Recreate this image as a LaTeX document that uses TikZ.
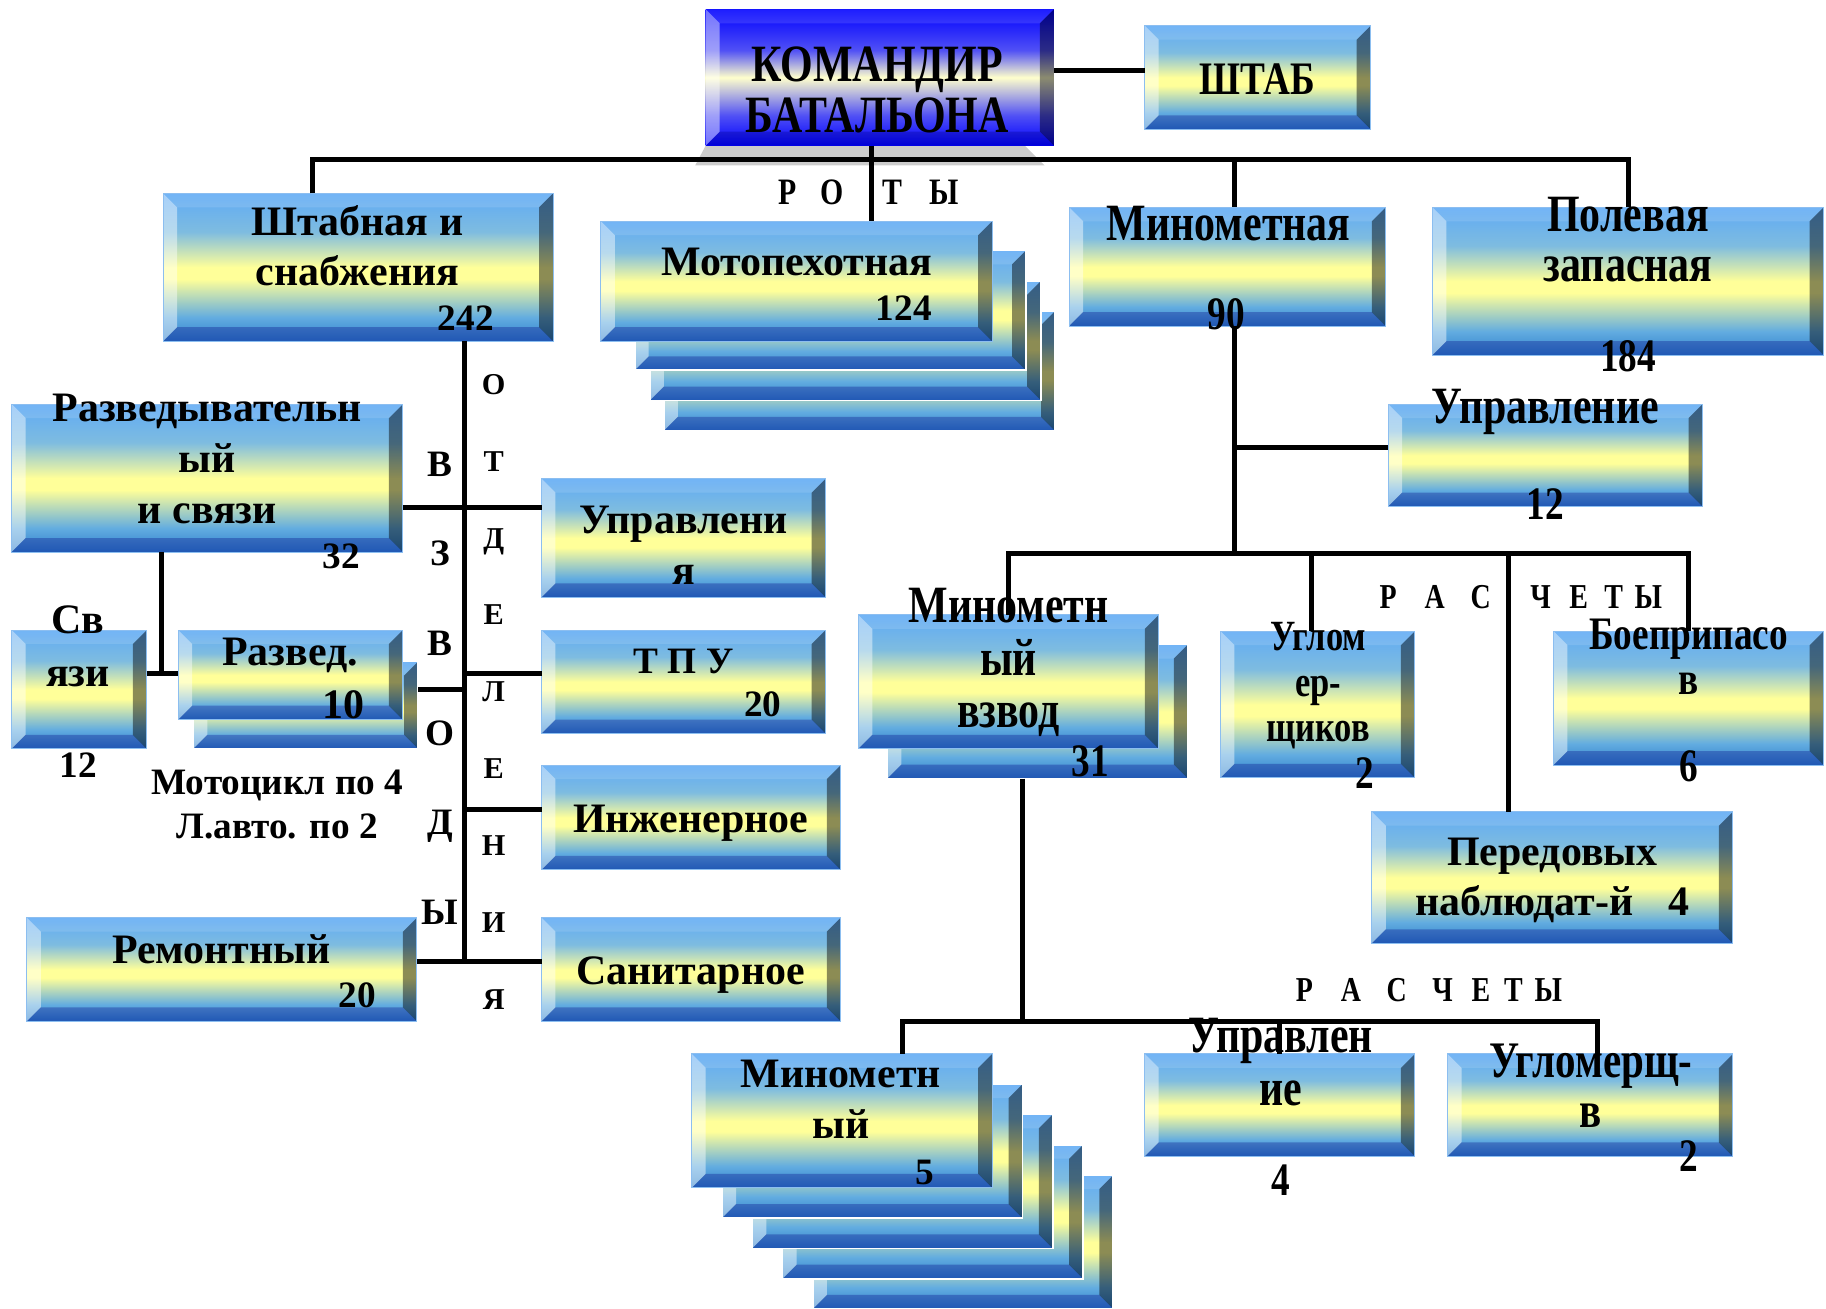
\documentclass[tikz,border=0pt]{standalone}
\usepackage{fontspec}
\setmainfont{Liberation Serif}
\newfontfamily\narrowfont[FakeStretch=0.8]{Liberation Serif}

\definecolor{shadeBot}{RGB}{47,127,204}
\definecolor{shadeLow}{RGB}{98,172,224}
\definecolor{shadeYel}{RGB}{255,255,153}
\definecolor{shadeUp}{RGB}{126,188,224}
\definecolor{shadeTop}{RGB}{95,170,245}
\definecolor{chiefBlue}{RGB}{0,0,255}
\definecolor{chiefMid}{RGB}{80,80,245}
\definecolor{chiefPale}{RGB}{255,255,204}
\definecolor{boxEdge}{RGB}{140,190,240}

\pgfdeclareverticalshading{bevshade}{100bp}{color(0bp)=(shadeBot); color(25bp)=(shadeBot); color(33bp)=(shadeLow); color(46bp)=(shadeYel); color(50bp)=(shadeYel); color(62bp)=(shadeUp); color(75bp)=(shadeTop); color(100bp)=(shadeTop)}
\pgfdeclareverticalshading{chiefshade}{100bp}{color(0bp)=(chiefBlue); color(25bp)=(chiefBlue); color(36bp)=(chiefMid); color(50bp)=(chiefPale); color(60bp)=(chiefMid); color(75bp)=(chiefBlue); color(100bp)=(chiefBlue)}

\tikzset{
  bevbox/.style={rectangle, inner sep=0pt, outer sep=0pt, shading=bevshade,
    draw=boxEdge, line width=0.8pt,
    path picture={
      \fill[white, opacity=0.45] (path picture bounding box.north west) -- (path picture bounding box.south west) -- ([shift={(12pt,12pt)}]path picture bounding box.south west) -- ([shift={(12pt,-12pt)}]path picture bounding box.north west) -- cycle;
      \fill[black, opacity=0.45] (path picture bounding box.north east) -- (path picture bounding box.south east) -- ([shift={(-12pt,12pt)}]path picture bounding box.south east) -- ([shift={(-12pt,-12pt)}]path picture bounding box.north east) -- cycle;
      \fill[white, opacity=0.12] (path picture bounding box.north west) -- (path picture bounding box.north east) -- ([shift={(-12pt,-12pt)}]path picture bounding box.north east) -- ([shift={(12pt,-12pt)}]path picture bounding box.north west) -- cycle;
      \fill[blue!50!black, opacity=0.3] (path picture bounding box.south west) -- (path picture bounding box.south east) -- ([shift={(-12pt,12pt)}]path picture bounding box.south east) -- ([shift={(12pt,12pt)}]path picture bounding box.south west) -- cycle;
    }},
  backbox/.style={bevbox, draw=white, line width=1.5pt},
  chiefbox/.style={bevbox, shading=chiefshade, draw=none},
  conn/.style={line width=4.3pt, black},
  lbl/.style={font=\bfseries\fontsize{36}{43}\selectfont, align=center, inner sep=0pt},
  nlbl/.style={font=\narrowfont\bfseries\fontsize{45}{44}\selectfont, align=center, inner sep=0pt},
  num/.style={font=\bfseries\fontsize{32}{36}\selectfont, inner sep=0pt},
  nnum/.style={font=\narrowfont\bfseries\fontsize{40}{40}\selectfont, inner sep=0pt}
}

\begin{document}
\begin{tikzpicture}[x=1pt, y=-1pt]
        \path[use as bounding box, fill=white] (0,0) rectangle (1568,1124);
        % top
        \fill[gray!40] (606,125) -- (880,125) -- (897,142) -- (597,142) -- cycle;
        \node[chiefbox, minimum width=299pt, minimum height=117pt] (chief) at (755.5,66.5) {};
        \node[bevbox, minimum width=194pt, minimum height=89pt] (shtab) at (1080,66.5) {};
        % roty
        \node[bevbox, minimum width=335pt, minimum height=127pt] (shtabn) at (307.5,229.5) {};
        \node[backbox, minimum width=336pt, minimum height=103pt] (motoc) at (738,318.5) {};
        \node[backbox, minimum width=336pt, minimum height=103pt] (motob) at (726,292.5) {};
        \node[backbox, minimum width=336pt, minimum height=103pt] (motoa) at (713,266.5) {};
        \node[bevbox, minimum width=336pt, minimum height=103pt] (moto) at (684,241.5) {};
        \node[bevbox, minimum width=272pt, minimum height=102pt] (minom) at (1054,229) {};
        \node[bevbox, minimum width=336pt, minimum height=127pt] (polev) at (1398,241.5) {};
        % minometnaya
        \node[bevbox, minimum width=270pt, minimum height=88pt] (upr12) at (1327,391) {};
        \node[backbox, minimum width=258pt, minimum height=115pt] (vzvodb) at (891,611) {};
        \node[bevbox, minimum width=258pt, minimum height=115pt] (vzvod) at (866,585.5) {};
        \node[bevbox, minimum width=167pt, minimum height=126pt] (uglom) at (1131.5,605) {};
        \node[bevbox, minimum width=232pt, minimum height=115pt] (boepr) at (1450,599.5) {};
        \node[bevbox, minimum width=310pt, minimum height=113pt] (pered) at (1333,753.5) {};
        % vzvod
        \node[backbox, minimum width=258pt, minimum height=115pt] (minad) at (827,1066.5) {};
        \node[backbox, minimum width=258pt, minimum height=115pt] (minac) at (801,1040.5) {};
        \node[backbox, minimum width=258pt, minimum height=115pt] (minab) at (775,1014.5) {};
        \node[backbox, minimum width=258pt, minimum height=115pt] (minaa) at (749,988.5) {};
        \node[bevbox, minimum width=258pt, minimum height=115pt] (mina) at (723,962.5) {};
        \node[bevbox, minimum width=232pt, minimum height=88pt] (upr4) at (1099,949) {};
        \node[bevbox, minimum width=245pt, minimum height=88pt] (uglb) at (1365.5,949) {};
        % vzvody / otdeleniya
        \node[bevbox, minimum width=336pt, minimum height=127pt] (razv) at (178,410.5) {};
        \node[bevbox, minimum width=244pt, minimum height=102pt] (uprl) at (587,462) {};
        \node[bevbox, minimum width=116pt, minimum height=102pt] (svyazi) at (68,592) {};
        \node[backbox, minimum width=193pt, minimum height=75pt] (razvedb) at (262.5,605.5) {};
        \node[bevbox, minimum width=193pt, minimum height=77pt] (razved) at (249.5,579.5) {};
        \node[bevbox, minimum width=244pt, minimum height=89pt] (tpu) at (587,585.5) {};
        \node[bevbox, minimum width=257pt, minimum height=90pt] (inzh) at (593.5,702) {};
        \node[bevbox, minimum width=335pt, minimum height=89pt] (remont) at (190.5,832.5) {};
        \node[bevbox, minimum width=257pt, minimum height=89pt] (sanit) at (593.5,832.5) {};

        % connectors
        \draw[conn] ([yshift=6pt]chief.east) -- ([yshift=6pt]chief.east -| shtab.west);
        \coordinate (busW) at (268,137);
        \coordinate (busE) at (1398,137);
        \draw[conn] (busW |- shtabn.north) -- (busW) -- (busE) -- (busE |- polev.north);
        \draw[conn] ([xshift=-7pt]chief.south) -- ([xshift=-7pt]chief.south |- moto.north);
        \coordinate (minD) at ([xshift=6pt]minom.south);
        \draw[conn] (busW -| minD) -- (minD |- minom.north);
        \coordinate (rasW) at (866,475);
        \coordinate (rasE) at (1450,475);
        \coordinate (rasP) at (1295,475);
        \draw[conn] (minD) -- (minD |- rasW);
        \draw[conn] ([yshift=7pt]upr12.west -| minD) -- ([yshift=7pt]upr12.west);
        \draw[conn] (rasW |- vzvod.north) -- (rasW) -- (rasE) -- (rasE |- boepr.north);
        \draw[conn] ([xshift=-5pt]rasW -| uglom.north) -- ([xshift=-5pt]uglom.north);
        \draw[conn] (rasP) -- (rasP |- pered.north);
        \coordinate (ras2W) at (775,877);
        \coordinate (ras2E) at (1372,877);
        \coordinate (ras2V) at (878,877);
        \draw[conn] (ras2V |- vzvodb.south) -- (ras2V);
        \draw[conn] (ras2W |- mina.north) -- (ras2W) -- (ras2E) -- (ras2E |- uglb.north);
        \draw[conn] (ras2W -| upr4.north) -- (upr4.north);
        \coordinate (spE) at (399,826);
        \coordinate (hUpr) at (399,436);
        \coordinate (hTpu) at (399,578);
        \coordinate (hRaz) at (399,592);
        \coordinate (hInz) at (399,695);
        \draw[conn] (spE |- shtabn.south) -- (spE);
        \draw[conn] (hUpr -| razv.east) -- (hUpr -| uprl.west);
        \draw[conn] (hTpu) -- (hTpu -| tpu.west);
        \draw[conn] (hRaz -| razvedb.east) -- (hRaz);
        \draw[conn] (hInz) -- (hInz -| inzh.west);
        \draw[conn] (spE -| remont.east) -- (spE -| sanit.west);
        \coordinate (svJ) at (139,578);
        \draw[conn] (svJ |- razv.south) -- (svJ);
        \draw[conn] (svJ -| svyazi.east) -- (svJ -| razved.west);

        % texts
        \node[nlbl] (chiefT) at (753,77) {КОМАНДИР\\БАТАЛЬОНА};
        \node[nlbl, font=\narrowfont\bfseries\fontsize{40}{40}\selectfont] (shtabT) at (1080,68) {ШТАБ};
        \node[nlbl, font=\narrowfont\bfseries\fontsize{32}{32}\selectfont] (rotyT) at (746,165) {Р\hspace{20pt}О\hspace{34pt}Т\hspace{23pt}Ы};
        \node[lbl] (shtabnT) at (307,211) {Штабная и\\снабжения};
        \node[num] (shtabnN) at (400,273) {242};
        \node[lbl] (motoT) at (684,225) {Мотопехотная};
        \node[num] (motoN) at (776,265) {124};
        \node[nlbl] (minomT) at (1055,192) {Минометная};
        \node[nnum] (minomN) at (1053,270) {90};
        \node[nlbl, font=\narrowfont\bfseries\fontsize{45}{43}\selectfont] (polevT) at (1398,206) {Полевая\\запасная};
        \node[nnum] (polevN) at (1398,306) {184};
        \node[nlbl] (upr12T) at (1327,354) {Управление};
        \node[nnum] (upr12N) at (1327,433) {12};
        \node[nlbl, font=\narrowfont\bfseries\fontsize{30}{30}\selectfont] (rasT) at (1306,513) {Р\hspace{24pt}А\hspace{22pt}С\hspace{34pt}Ч\hspace{16pt}Е\hspace{14pt}Т\hspace{10pt}Ы};
        \node[nlbl, font=\narrowfont\bfseries\fontsize{45}{45}\selectfont] (vzvodT) at (866,569) {Минометн\\ый\\взвод};
        \node[nnum] (vzvodN) at (936,654) {31};
        \node[nlbl, font=\narrowfont\bfseries\fontsize{37}{39}\selectfont] (uglomT) at (1132,589) {Углом\\ер-\\щиков};
        \node[nnum] (uglomN) at (1172,664) {2};
        \node[nlbl, font=\narrowfont\bfseries\fontsize{40}{38}\selectfont] (boeprT) at (1450,564) {Боеприпасо\\в};
        \node[nnum] (boeprN) at (1450,658) {6};
        \node[lbl] (peredT) at (1333,756) {Передовых\\наблюдат-й\hspace{30pt}4};
        \node[nlbl, font=\narrowfont\bfseries\fontsize{30}{30}\selectfont] (ras2T) at (1227,850) {Р\hspace{24pt}А\hspace{22pt}С\hspace{22pt}Ч\hspace{16pt}Е\hspace{12pt}Т\hspace{10pt}Ы};
        \node[lbl, font=\bfseries\fontsize{36}{44}\selectfont] (minaT) at (722,944) {Минометн\\ый};
        \node[num] (minaN) at (794,1007) {5};
        \node[nlbl, font=\narrowfont\bfseries\fontsize{45}{45}\selectfont] (upr4T) at (1100,912) {Управлен\\ие};
        \node[nnum] (upr4N) at (1100,1013) {4};
        \node[nlbl, font=\narrowfont\bfseries\fontsize{44}{43}\selectfont] (uglbT) at (1366,932) {Угломерщ-\\в};
        \node[nnum] (uglbN) at (1450,993) {2};
        \node[lbl, font=\bfseries\fontsize{36}{44}\selectfont] (razvT) at (178,394) {Разведывательн\\ый\\и связи};
        \node[num] (razvN) at (293,478) {32};
        \node[lbl, font=\bfseries\fontsize{36}{44}\selectfont] (uprlT) at (587,468) {Управлени\\я};
        \node[lbl, font=\bfseries\fontsize{36}{45}\selectfont] (svyaziT) at (67,555) {Св\\язи};
        \node[num] (svyaziN) at (67,657) {12};
        \node[lbl] (razvedT) at (249,563) {Развед.};
        \node[lbl] (razvedN) at (295,605) {10};
        \node[num] (tpuT) at (587,568) {Т П У};
        \node[num] (tpuN) at (655,605) {20};
        \node[num, align=center, font=\bfseries\fontsize{32}{38}\selectfont] (transpT) at (238,691) {Мотоцикл по 4\\Л.авто. по 2};
        \node[lbl] (inzhT) at (593,707) {Инженерное};
        \node[lbl] (remontT) at (190,815) {Ремонтный};
        \node[num] (remontN) at (307,855) {20};
        \node[lbl] (sanitT) at (593,837) {Санитарное};
        \node[lbl, font=\bfseries\fontsize{32}{77}\selectfont] (vzvodyT) at (378,591) {В\\З\\В\\О\\Д\\Ы};
        \node[lbl, font=\bfseries\fontsize{26}{66}\selectfont] (otdelT) at (424,594) {О\\Т\\Д\\Е\\Л\\Е\\Н\\И\\Я};
    \end{tikzpicture}
\end{document}
